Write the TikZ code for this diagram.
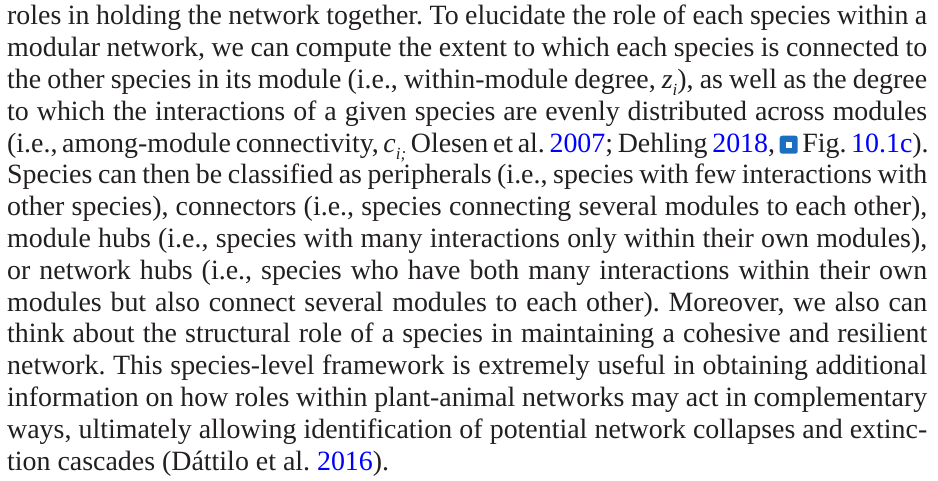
\documentclass[tikz,border=0pt]{standalone}
\usepackage{fontspec}
\setmainfont{Liberation Serif}
\definecolor{inkgray}{HTML}{231F20}
\definecolor{linkblue}{HTML}{0000FF}
\definecolor{iconblue}{HTML}{1B6FC0}
\newcommand{\lnk}[1]{\textcolor{linkblue}{#1}}
\newcommand{\subx}[1]{\raisebox{-7pt}{\fontsize{17}{17}\selectfont\textit{#1}}}
\newcommand{\figicon}{\tikz[baseline=1.5pt]{\fill[iconblue,rounded corners=2.5pt] (0pt,0pt) rectangle (18pt,18pt); \fill[white] (6pt,6pt) rectangle (12pt,12pt);}}
\tikzset{textline/.style={anchor=base west, inner sep=0pt, text=inkgray, font=\frenchspacing\fontsize{27.9}{31.8}\selectfont}}

\begin{document}
\begin{tikzpicture}[x=1pt,y=1pt]
\useasboundingbox (0,0) rectangle (938,480);
%\draw[help lines] (0,0) grid[step=50] (938,480);
\foreach \t [count=\i] in {
{roles in holding the network together. To elucidate the role of each species within a},
{modular network, we can compute the extent to which each species is connected to},
{the other species in its module (i.e., within-module degree, \textit{z}\subx{i}), as well as the degree},
{to which the interactions of a given species are evenly distributed across modules},
{(i.e., among-module connectivity, \textit{c}\subx{i;} Olesen et al. \lnk{2007}; Dehling \lnk{2018}, \figicon{} Fig. \lnk{10.1c}).},
{Species can then be classified as peripherals (i.e., species with few interactions with},
{other species), connectors (i.e., species connecting several modules to each other),},
{module hubs (i.e., species with many interactions only within their own modules),},
{or network hubs (i.e., species who have both many interactions within their own},
{modules but also connect several modules to each other). Moreover, we also can},
{think about the structural role of a species in maintaining a cohesive and resilient},
{network. This species-level framework is extremely useful in obtaining additional},
{information on how roles within plant-animal networks may act in complementary},
{ways, ultimately allowing identification of potential network collapses and extinc-}}
\node[textline] (line\i) at (7,{455-(\i-1)*31.8}) {\makebox[920pt][s]{\t}};
\node[textline] (line15) at (7,{455-14*31.8}) {tion cascades (Dáttilo et al. \lnk{2016}).};
\end{tikzpicture}
\end{document}
